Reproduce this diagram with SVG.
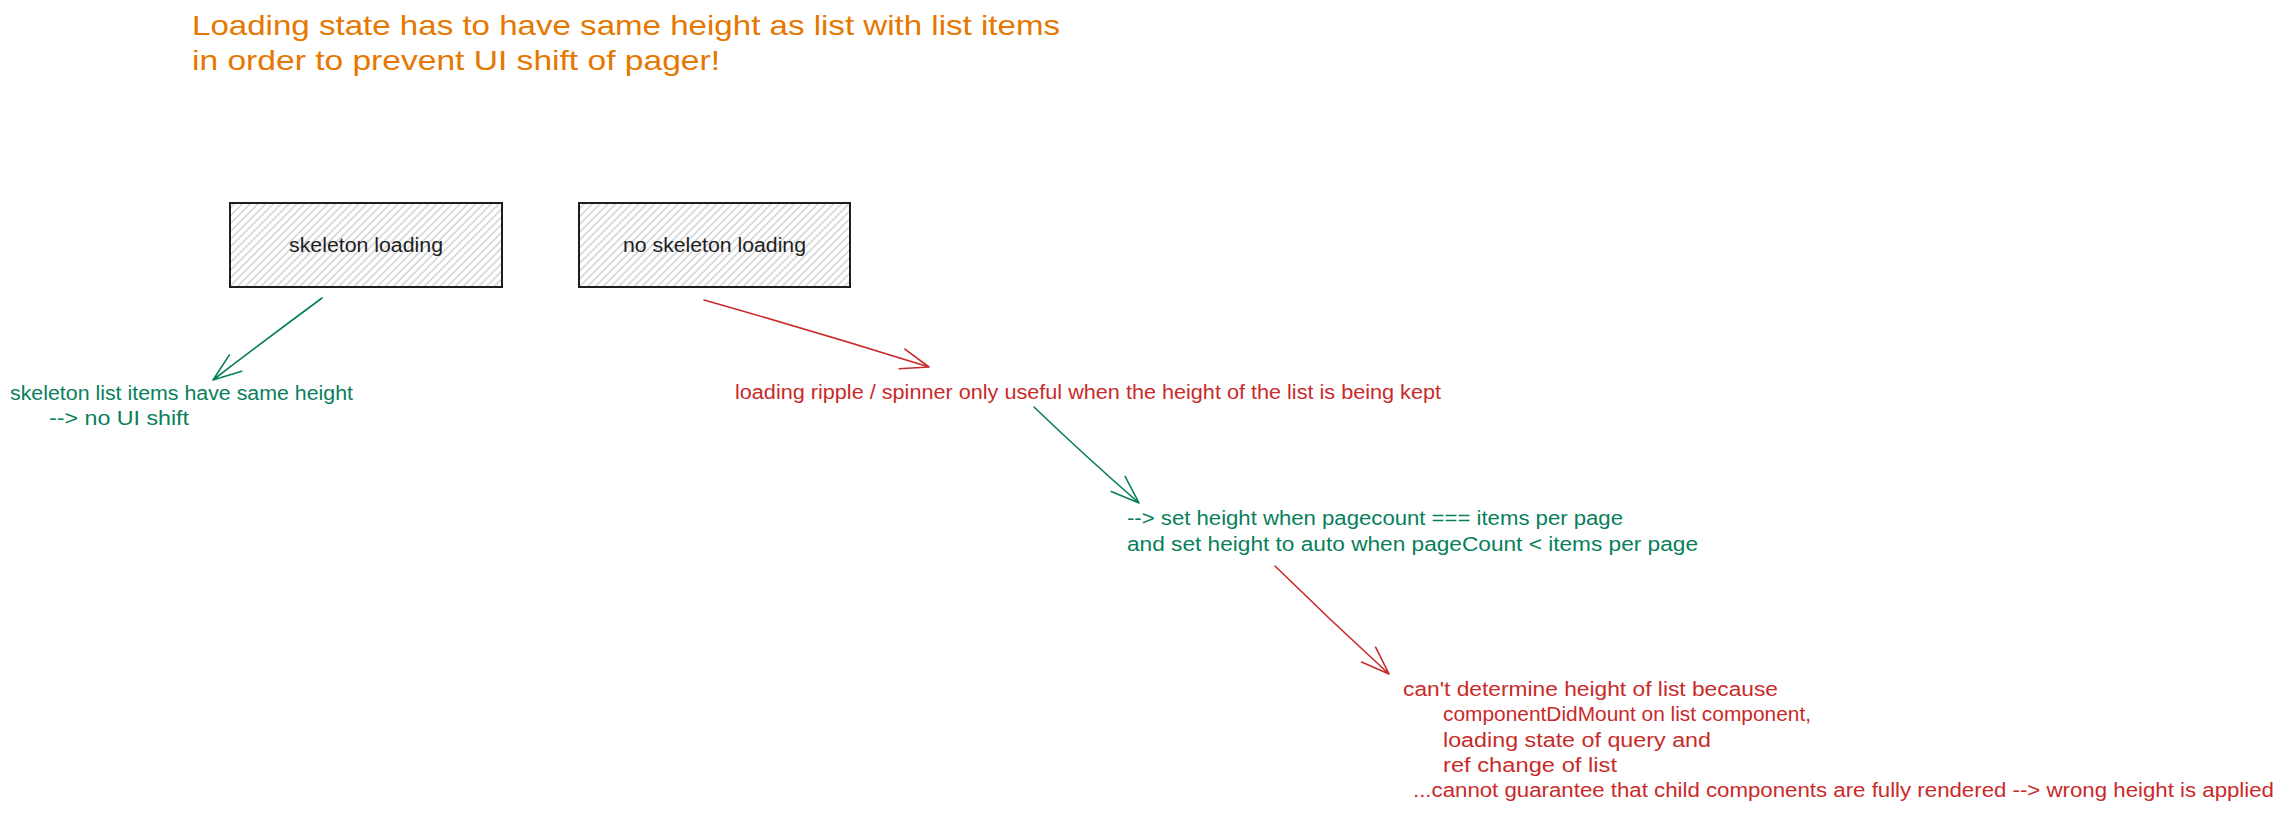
<svg xmlns="http://www.w3.org/2000/svg" width="2287" height="815" viewBox="0 0 2287 815">
  <defs>
    <pattern id="hachure" patternUnits="userSpaceOnUse" width="5.5" height="5.5" patternTransform="rotate(45)">
      <line x1="2" y1="0" x2="2" y2="5.5" stroke="#b8bcc0" stroke-width="1"/>
    </pattern>
  </defs>
  <style>
    text { font-family: "Liberation Sans", "DejaVu Sans", sans-serif; }
    .title { font-size: 28px; fill: #e67700; }
    .lbl { font-size: 20px; fill: #1e1e1e; text-anchor: middle; }
    .green { font-size: 20px; fill: #087f5b; }
    .red { font-size: 20px; fill: #c92a2a; }
    .box { fill: url(#hachure); stroke: #1e1e1e; stroke-width: 2; }
    .ag { fill: none; stroke: #087f5b; stroke-width: 1.6; stroke-linecap: round; stroke-linejoin: round; }
    .ar { fill: none; stroke: #c92a2a; stroke-width: 1.6; stroke-linecap: round; stroke-linejoin: round; }
  </style>
  <rect width="2287" height="815" fill="#ffffff"/>

  <g id="title">
    <text class="title" x="192" y="35" textLength="868" lengthAdjust="spacingAndGlyphs">Loading state has to have same height as list with list items</text>
    <text class="title" x="192" y="70" textLength="528" lengthAdjust="spacingAndGlyphs">in order to prevent UI shift of pager!</text>
  </g>

  <g id="node-skeleton">
    <rect class="box" x="230" y="203" width="272" height="84"/>
    <text class="lbl" x="366" y="252" textLength="154" lengthAdjust="spacingAndGlyphs">skeleton loading</text>
  </g>

  <g id="node-no-skeleton">
    <rect class="box" x="579" y="203" width="271" height="84"/>
    <text class="lbl" x="714.5" y="252" textLength="183" lengthAdjust="spacingAndGlyphs">no skeleton loading</text>
  </g>

  <g id="note-skeleton">
    <text class="green" x="10" y="400" textLength="343" lengthAdjust="spacingAndGlyphs">skeleton list items have same height</text>
    <text class="green" x="49" y="425" textLength="140" lengthAdjust="spacingAndGlyphs">--&gt; no UI shift</text>
  </g>

  <g id="note-ripple">
    <text class="red" x="735" y="399" textLength="706" lengthAdjust="spacingAndGlyphs">loading ripple / spinner only useful when the height of the list is being kept</text>
  </g>

  <g id="note-set-height">
    <text class="green" x="1127" y="525" textLength="496" lengthAdjust="spacingAndGlyphs">--&gt; set height when pagecount === items per page</text>
    <text class="green" x="1127" y="551" textLength="571" lengthAdjust="spacingAndGlyphs">and set height to auto when pageCount &lt; items per page</text>
  </g>

  <g id="note-cant-determine">
    <text class="red" x="1403" y="696" textLength="375" lengthAdjust="spacingAndGlyphs">can't determine height of list because</text>
    <text class="red" x="1443" y="721" textLength="368" lengthAdjust="spacingAndGlyphs">componentDidMount on list component,</text>
    <text class="red" x="1443" y="747" textLength="268" lengthAdjust="spacingAndGlyphs">loading state of query and</text>
    <text class="red" x="1443" y="772" textLength="174" lengthAdjust="spacingAndGlyphs">ref change of list</text>
    <text class="red" x="1413" y="797" textLength="861" lengthAdjust="spacingAndGlyphs">...cannot guarantee that child components are fully rendered --&gt; wrong height is applied</text>
  </g>

  <g id="connectors">
    <path class="ag" d="M322 298 Q268 338 213 380 M229.4 354.9 L213 380 L241.7 371.2"/>
    <path class="ar" d="M704 300 Q817 332 929 367 M904.9 349.1 L929 367 L899.1 368.8"/>
    <path class="ag" d="M1034 407 Q1085 456 1139 503 M1125.1 476.4 L1139 503 L1111.2 491.5"/>
    <path class="ar" d="M1275 566 Q1331 621 1389 674 M1375.6 647.1 L1389 674 L1361.5 662"/>
  </g>
</svg>
